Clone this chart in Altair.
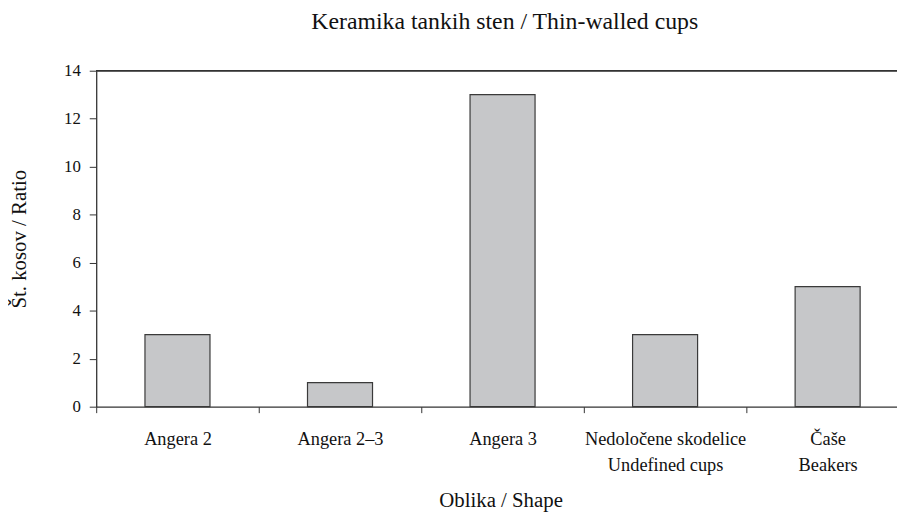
import altair as alt
import pandas as pd

line1 = ["Angera 2", "Angera 2\u20133", "Angera 3", "Nedolo\u010dene skodelice", "\u010ca\u0161e"]
line2 = ["", "", "", "Undefined cups", "Beakers"]
counts = [3, 1, 13, 3, 5]

labels = [a if not b else a + "|" + b for a, b in zip(line1, line2)]
df = pd.DataFrame({"shape": labels, "count": counts})

FONT = "Liberation Serif"
INK = "#333333"
TEXT = "#111111"

x_enc = alt.X(
    "shape:N",
    sort=labels,
    title="Oblika / Shape",
    scale=alt.Scale(paddingInner=0, paddingOuter=0),
    axis=alt.Axis(
        labelAngle=0,
        labelExpr="split(datum.label, '|')",
        labelFont=FONT,
        labelFontSize=18.5,
        labelColor=TEXT,
        labelLineHeight=26,
        labelBaseline="alphabetic",
        labelPadding=32,
        tickBand="extent",
        tickSize=6,
        tickColor=INK,
        domainColor=INK,
        domainWidth=1.3,
        titleFont=FONT,
        titleFontSize=21,
        titleFontWeight="normal",
        titleColor=TEXT,
        titleBaseline="alphabetic",
        titleX=408,
        titleY=101,
    ),
)

y_enc = alt.Y(
    "count:Q",
    title="\u0160t. kosov / Ratio",
    scale=alt.Scale(domain=[0, 14]),
    axis=alt.Axis(
        values=[0, 2, 4, 6, 8, 10, 12, 14],
        grid=False,
        labelFont=FONT,
        labelFontSize=17,
        labelColor=TEXT,
        labelPadding=9,
        tickSize=7,
        tickColor=INK,
        domainColor=INK,
        domainWidth=1.3,
        titleFont=FONT,
        titleFontSize=21,
        titleFontWeight="normal",
        titleColor=TEXT,
        titleBaseline="alphabetic",
        titleAlign="center",
        titleX=-71,
        titleY=169.5,
    ),
)

bars = alt.Chart(df).mark_bar(
    width=alt.RelativeBandSize(0.4),
    fill="#c6c7c9",
    stroke="#3a3a3a",
    strokeWidth=1.2,
).encode(x=x_enc, y=y_enc)

top_line = alt.Chart(df).mark_rule(color=INK, strokeWidth=1.3).encode(
    y=alt.datum(14),
    x=alt.value(0),
    x2=alt.value(820),
)

chart = (
    alt.layer(bars, top_line)
    .properties(
        width=820,
        height=339,
        title=alt.TitleParams(
            "Keramika tankih sten / Thin-walled cups",
            font=FONT,
            fontSize=24,
            fontWeight="normal",
            color=TEXT,
            anchor="start",
            frame="group",
            dx=217,
            offset=28,
        ),
        padding={"left": 89, "top": 61, "right": -12, "bottom": 106},
        autosize=alt.AutoSizeParams(type="none"),
    )
    .configure_view(stroke=None)
)

chart.save("out.html", embed_options={"renderer": "svg", "actions": False})
